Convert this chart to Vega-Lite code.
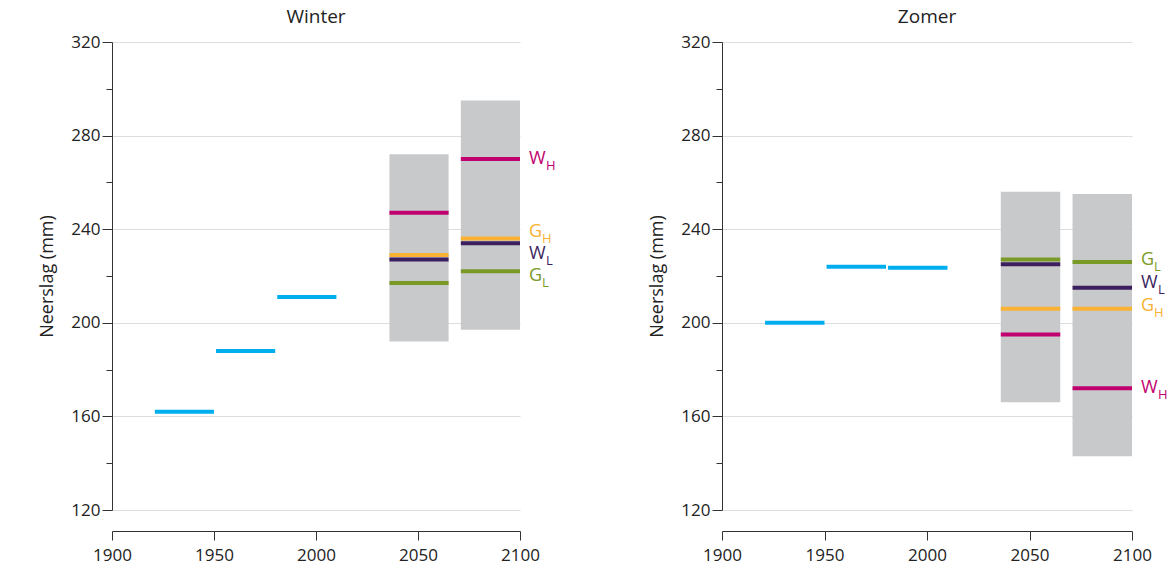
{
  "$schema": "https://vega.github.io/schema/vega-lite/v6.json",
  "background": "white",
  "padding": {"left": 38, "top": 8, "right": 0, "bottom": 0},
  "config": {
    "font": "Open Sans",
    "view": {"stroke": null},
    "title": {"fontSize": 19, "fontWeight": "normal", "color": "#222", "offset": 6},
    "axis": {"labelFontSize": 17, "titleFontSize": 18, "titleFontWeight": "normal", "labelColor": "#222", "titleColor": "#222", "domainColor": "#333", "tickColor": "#333", "gridColor": "#dddddd"}
  },
  "datasets": {
    "obs": [
      {"season": "Winter", "x1": 1921, "x2": 1950, "v": 162},
      {"season": "Winter", "x1": 1951, "x2": 1980, "v": 188},
      {"season": "Winter", "x1": 1981, "x2": 2010, "v": 211},
      {"season": "Zomer", "x1": 1921, "x2": 1950, "v": 200},
      {"season": "Zomer", "x1": 1951, "x2": 1980, "v": 224},
      {"season": "Zomer", "x1": 1981, "x2": 2010, "v": 223.5}
    ],
    "box": [
      {"season": "Winter", "x1": 2036, "x2": 2065, "lo": 192, "hi": 272},
      {"season": "Winter", "x1": 2071, "x2": 2100, "lo": 197, "hi": 295},
      {"season": "Zomer", "x1": 2036, "x2": 2065, "lo": 166, "hi": 256},
      {"season": "Zomer", "x1": 2071, "x2": 2100, "lo": 143, "hi": 255}
    ],
    "scen": [
      {"season": "Winter", "x1": 2036, "x2": 2065, "s": "WH", "v": 247},
      {"season": "Winter", "x1": 2036, "x2": 2065, "s": "GH", "v": 229},
      {"season": "Winter", "x1": 2036, "x2": 2065, "s": "WL", "v": 227},
      {"season": "Winter", "x1": 2036, "x2": 2065, "s": "GL", "v": 217},
      {"season": "Winter", "x1": 2071, "x2": 2100, "s": "WH", "v": 270},
      {"season": "Winter", "x1": 2071, "x2": 2100, "s": "GH", "v": 236},
      {"season": "Winter", "x1": 2071, "x2": 2100, "s": "WL", "v": 234},
      {"season": "Winter", "x1": 2071, "x2": 2100, "s": "GL", "v": 222},
      {"season": "Zomer", "x1": 2036, "x2": 2065, "s": "GL", "v": 227},
      {"season": "Zomer", "x1": 2036, "x2": 2065, "s": "WL", "v": 225},
      {"season": "Zomer", "x1": 2036, "x2": 2065, "s": "GH", "v": 206},
      {"season": "Zomer", "x1": 2036, "x2": 2065, "s": "WH", "v": 195},
      {"season": "Zomer", "x1": 2071, "x2": 2100, "s": "GL", "v": 226},
      {"season": "Zomer", "x1": 2071, "x2": 2100, "s": "WL", "v": 215},
      {"season": "Zomer", "x1": 2071, "x2": 2100, "s": "GH", "v": 206},
      {"season": "Zomer", "x1": 2071, "x2": 2100, "s": "WH", "v": 172}
    ],
    "lab": [
      {"season": "Winter", "s": "WH", "main": "W", "sub": "H", "ly": 270},
      {"season": "Winter", "s": "GH", "main": "G", "sub": "H", "ly": 239},
      {"season": "Winter", "s": "WL", "main": "W", "sub": "L", "ly": 229.5},
      {"season": "Winter", "s": "GL", "main": "G", "sub": "L", "ly": 220},
      {"season": "Zomer", "s": "GL", "main": "G", "sub": "L", "ly": 227},
      {"season": "Zomer", "s": "WL", "main": "W", "sub": "L", "ly": 217},
      {"season": "Zomer", "s": "GH", "main": "G", "sub": "H", "ly": 207},
      {"season": "Zomer", "s": "WH", "main": "W", "sub": "H", "ly": 172}
    ]
  },
  "hconcat": [
    {
      "title": "Winter",
      "width": 408, "height": 468,
      "layer": [
        {"data": {"name": "box"}, "transform": [{"filter": "datum.season === 'Winter'"}],
         "mark": {"type": "rect", "color": "#c8c9cb"},
         "encoding": {
           "x": {"field": "x1", "type": "quantitative", "scale": {"domain": [1900, 2100], "nice": false},
             "axis": {"values": [1900, 1950, 2000, 2050, 2100], "format": "d", "labelOverlap": false, "labelFlush": false, "labelBound": false, "offset": 21, "title": null, "grid": false, "tickSize": 9, "labelPadding": 7}},
           "x2": {"field": "x2"},
           "y": {"field": "lo", "type": "quantitative", "scale": {"domain": [120, 320], "nice": false},
             "axis": {"values": [120,140,160,180,200,220,240,260,280,300,320], "labelExpr": "datum.value % 40 == 0 ? datum.value : ''", "labelOverlap": false, "title": "Neerslag (mm)", "titlePadding": 14, "tickSize": {"condition": {"test": "datum.value % 40 == 0", "value": 10}, "value": 6}, "gridOpacity": {"condition": {"test": "datum.value % 40 == 0", "value": 1}, "value": 0}}},
           "y2": {"field": "hi"}
         }},
        {"data": {"name": "obs"}, "transform": [{"filter": "datum.season === 'Winter'"}],
         "mark": {"type": "rule", "strokeWidth": 4, "color": "#00aeef"},
         "encoding": {"x": {"field": "x1", "type": "quantitative"}, "x2": {"field": "x2"}, "y": {"field": "v", "type": "quantitative"}}},
        {"data": {"name": "scen"}, "transform": [{"filter": "datum.season === 'Winter'"}],
         "mark": {"type": "rule", "strokeWidth": 4},
         "encoding": {"x": {"field": "x1", "type": "quantitative"}, "x2": {"field": "x2"}, "y": {"field": "v", "type": "quantitative"},
           "color": {"field": "s", "type": "nominal", "legend": null, "scale": {"domain": ["WH", "GH", "WL", "GL"], "range": ["#c0006e", "#f9b233", "#3b1f5e", "#7a9a28"]}}}},
        {"data": {"name": "lab"}, "transform": [{"filter": "datum.season === 'Winter'"}],
         "mark": {"type": "text", "align": "left", "fontSize": 18, "dx": 9, "baseline": "middle"},
         "encoding": {"x": {"datum": 2100}, "y": {"field": "ly", "type": "quantitative"}, "text": {"field": "main"},
           "color": {"field": "s", "type": "nominal", "legend": null}}},
        {"data": {"name": "lab"}, "transform": [{"filter": "datum.season === 'Winter' && datum.main === 'W'"}],
         "mark": {"type": "text", "align": "left", "fontSize": 13, "dx": 26, "dy": 7, "baseline": "middle"},
         "encoding": {"x": {"datum": 2100}, "y": {"field": "ly", "type": "quantitative"}, "text": {"field": "sub"},
           "color": {"field": "s", "type": "nominal", "legend": null}}},
        {"data": {"name": "lab"}, "transform": [{"filter": "datum.season === 'Winter' && datum.main === 'G'"}],
         "mark": {"type": "text", "align": "left", "fontSize": 13, "dx": 22, "dy": 7, "baseline": "middle"},
         "encoding": {"x": {"datum": 2100}, "y": {"field": "ly", "type": "quantitative"}, "text": {"field": "sub"},
           "color": {"field": "s", "type": "nominal", "legend": null}}}
      ]
    },
    {
      "title": "Zomer",
      "width": 410, "height": 468,
      "layer": [
        {"data": {"name": "box"}, "transform": [{"filter": "datum.season === 'Zomer'"}],
         "mark": {"type": "rect", "color": "#c8c9cb"},
         "encoding": {
           "x": {"field": "x1", "type": "quantitative", "scale": {"domain": [1900, 2100], "nice": false},
             "axis": {"values": [1900, 1950, 2000, 2050, 2100], "format": "d", "labelOverlap": false, "labelFlush": false, "labelBound": false, "offset": 21, "title": null, "grid": false, "tickSize": 9, "labelPadding": 7}},
           "x2": {"field": "x2"},
           "y": {"field": "lo", "type": "quantitative", "scale": {"domain": [120, 320], "nice": false},
             "axis": {"values": [120,140,160,180,200,220,240,260,280,300,320], "labelExpr": "datum.value % 40 == 0 ? datum.value : ''", "labelOverlap": false, "title": "Neerslag (mm)", "titlePadding": 14, "tickSize": {"condition": {"test": "datum.value % 40 == 0", "value": 10}, "value": 6}, "gridOpacity": {"condition": {"test": "datum.value % 40 == 0", "value": 1}, "value": 0}}},
           "y2": {"field": "hi"}
         }},
        {"data": {"name": "obs"}, "transform": [{"filter": "datum.season === 'Zomer'"}],
         "mark": {"type": "rule", "strokeWidth": 4, "color": "#00aeef"},
         "encoding": {"x": {"field": "x1", "type": "quantitative"}, "x2": {"field": "x2"}, "y": {"field": "v", "type": "quantitative"}}},
        {"data": {"name": "scen"}, "transform": [{"filter": "datum.season === 'Zomer'"}],
         "mark": {"type": "rule", "strokeWidth": 4},
         "encoding": {"x": {"field": "x1", "type": "quantitative"}, "x2": {"field": "x2"}, "y": {"field": "v", "type": "quantitative"},
           "color": {"field": "s", "type": "nominal", "legend": null, "scale": {"domain": ["WH", "GH", "WL", "GL"], "range": ["#c0006e", "#f9b233", "#3b1f5e", "#7a9a28"]}}}},
        {"data": {"name": "lab"}, "transform": [{"filter": "datum.season === 'Zomer'"}],
         "mark": {"type": "text", "align": "left", "fontSize": 18, "dx": 9, "baseline": "middle"},
         "encoding": {"x": {"datum": 2100}, "y": {"field": "ly", "type": "quantitative"}, "text": {"field": "main"},
           "color": {"field": "s", "type": "nominal", "legend": null}}},
        {"data": {"name": "lab"}, "transform": [{"filter": "datum.season === 'Zomer' && datum.main === 'W'"}],
         "mark": {"type": "text", "align": "left", "fontSize": 13, "dx": 26, "dy": 7, "baseline": "middle"},
         "encoding": {"x": {"datum": 2100}, "y": {"field": "ly", "type": "quantitative"}, "text": {"field": "sub"},
           "color": {"field": "s", "type": "nominal", "legend": null}}},
        {"data": {"name": "lab"}, "transform": [{"filter": "datum.season === 'Zomer' && datum.main === 'G'"}],
         "mark": {"type": "text", "align": "left", "fontSize": 13, "dx": 22, "dy": 7, "baseline": "middle"},
         "encoding": {"x": {"datum": 2100}, "y": {"field": "ly", "type": "quantitative"}, "text": {"field": "sub"},
           "color": {"field": "s", "type": "nominal", "legend": null}}}
      ]
    }
  ],
  "spacing": 92
}
